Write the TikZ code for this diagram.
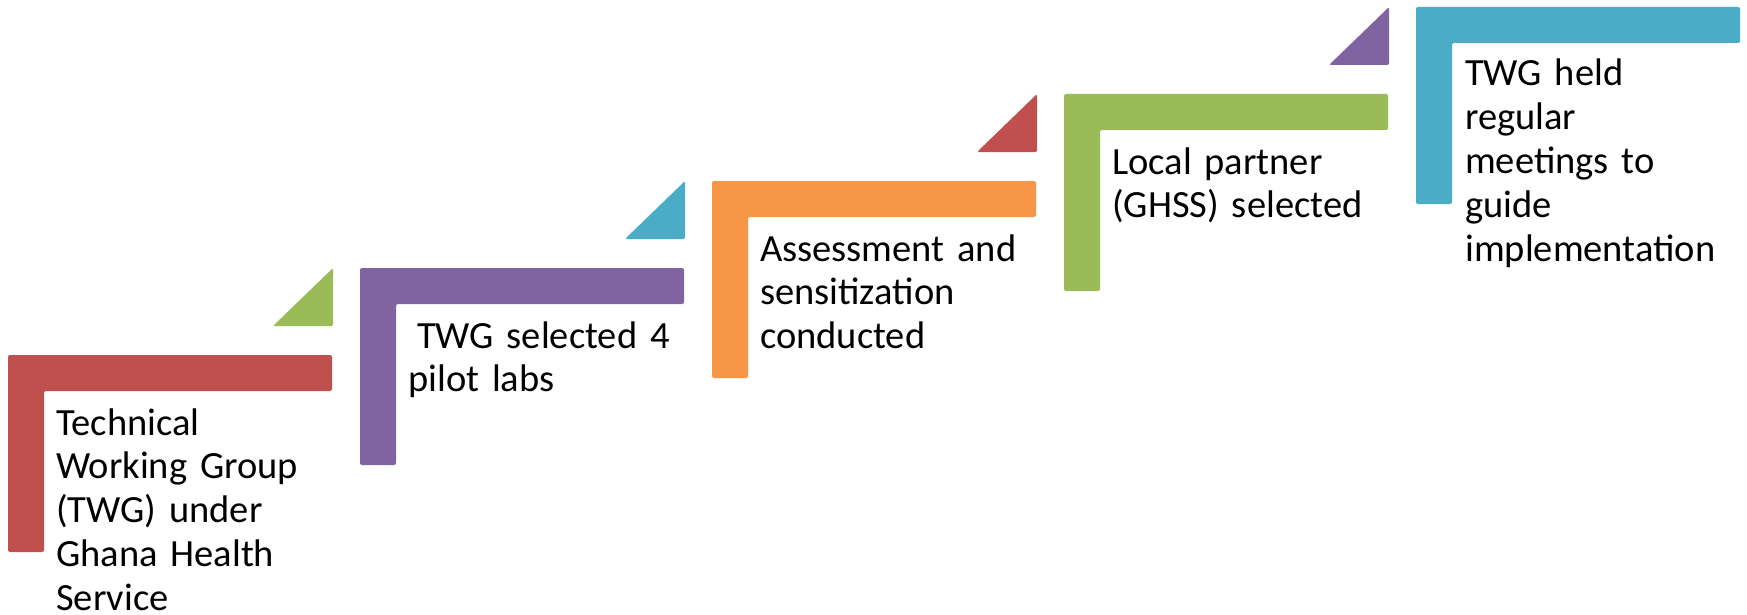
\documentclass[tikz,border=0pt]{standalone}
\usepackage{fontspec}
\setmainfont{Carlito}
\definecolor{stepred}{HTML}{C0504D}
\definecolor{steppurple}{HTML}{8064A2}
\definecolor{steporange}{HTML}{F79646}
\definecolor{stepgreen}{HTML}{9BBB59}
\definecolor{stepblue}{HTML}{4BACC6}
\begin{document}
\begin{tikzpicture}[x=1pt,y=-1pt,
  bracket/.style={fill=#1, rounded corners=2pt},
  wedge/.style={fill=#1, rounded corners=1.5pt},
  steptext/.style={anchor=base west, inner sep=0pt, text width=300pt,
    align=left, font=\fontsize{38.5}{43.9}\selectfont}]
\useasboundingbox (0,0) rectangle (1747,615);
% L-shaped brackets, one per step, climbing to the right
\foreach \i/\lc in {0/stepred, 1/steppurple, 2/steporange, 3/stepgreen, 4/stepblue}{
  \fill[bracket=\lc, shift={(352*\i,-87*\i)}]
    (8,355) -- (332,355) -- (332,391) -- (44,391) -- (44,552) -- (8,552) -- cycle;
}
% small triangles above the right end of each bracket
\foreach \i/\tc in {0/stepgreen, 1/stepblue, 2/stepred, 3/steppurple}{
  \fill[wedge=\tc, shift={(352*\i,-87*\i)}]
    (333,268) -- (333,326) -- (273,326) -- cycle;
}
% step labels
\node[steptext] (s1) at (56,435) {Technical\\Working Group\\(TWG) under\\Ghana Health\\Service};
\node[steptext] (s2) at (408,348) {\hspace*{9pt}TWG selected 4\\pilot labs};
\node[steptext] (s3) at (760,261) {Assessment and\\sensitization\\conducted};
\node[steptext] (s4) at (1112,174) {Local partner\\(GHSS) selected};
\node[steptext] (s5) at (1465,86) {TWG held\\regular\\meetings to\\guide\\implementation};
\end{tikzpicture}
\end{document}
